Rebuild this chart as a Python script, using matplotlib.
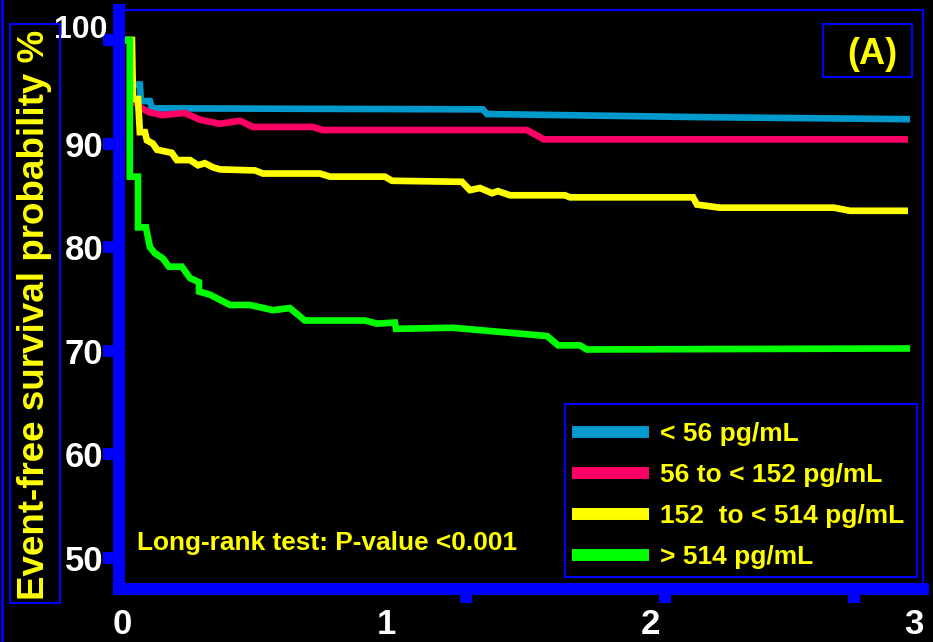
import matplotlib
matplotlib.use("Agg")
import matplotlib.pyplot as plt
from matplotlib.patches import Rectangle
from matplotlib.lines import Line2D
from matplotlib.transforms import ScaledTranslation

plt.rcParams['font.family'] = ['Liberation Sans', 'DejaVu Sans']

# ---------------- data ----------------
labels = ["< 56 pg/mL", "56 to < 152 pg/mL", "152  to < 514 pg/mL", "> 514 pg/mL"]
colors = ["#0099CC", "#FF0066", "#FFFF00", "#00FF00"]

blue_t = [0, 0.034, 0.034, 0.068, 0.072, 0.106, 0.114, 1.367, 1.383, 2.19, 2.985]
blue_v = [100, 100, 95.7, 95.7, 94.1, 94.1, 93.4, 93.3, 92.85, 92.55, 92.35]

red_t = [0, 0.030, 0.042, 0.068, 0.106, 0.152, 0.239, 0.295, 0.371, 0.447, 0.496,
         0.723, 0.761, 1.534, 1.598, 2.977]
red_v = [100, 100, 94.2, 93.5, 93.0, 92.75, 92.95, 92.3, 91.9, 92.2, 91.6,
         91.6, 91.3, 91.3, 90.4, 90.4]

yel_t = [0, 0.038, 0.042, 0.061, 0.068, 0.087, 0.095, 0.117, 0.133, 0.189, 0.208,
         0.258, 0.288, 0.314, 0.345, 0.371, 0.504, 0.534, 0.75, 0.788, 0.996, 1.023,
         1.288, 1.318, 1.356, 1.402, 1.424, 1.470, 1.678, 1.697, 2.163, 2.178, 2.265,
         2.697, 2.758, 2.977]
yel_v = [100, 100, 94.3, 94.3, 91.1, 91.1, 90.3, 90.0, 89.4, 89.1, 88.4,
         88.4, 87.9, 88.1, 87.7, 87.5, 87.4, 87.1, 87.1, 86.8, 86.8, 86.4,
         86.3, 85.5, 85.7, 85.2, 85.4, 85.0, 85.0, 84.8, 84.8, 84.1, 83.8,
         83.8, 83.5, 83.5]

grn_t = [0, 0.030, 0.030, 0.061, 0.061, 0.091, 0.106, 0.125, 0.155, 0.178, 0.227,
         0.258, 0.292, 0.292, 0.333, 0.409, 0.485, 0.572, 0.636, 0.693, 0.920, 0.966,
         1.034, 1.038, 1.254, 1.610, 1.652, 1.735, 1.761, 2.985]
grn_v = [100, 100, 86.8, 86.8, 81.9, 81.9, 80.0, 79.4, 78.9, 78.1, 78.1,
         77.0, 76.6, 75.7, 75.4, 74.4, 74.4, 73.9, 74.1, 72.9, 72.9, 72.6,
         72.7, 72.1, 72.2, 71.4, 70.5, 70.5, 70.1, 70.2]

x_ticks = [0, 1, 2, 3]
x_minor = [0, 1.303, 2.057, 2.773]
y_ticks = [50, 60, 70, 80, 90, 100]

ylabel = "Event-free survival probability %"
panel = "(A)"
test_text = "Long-rank test: P-value <0.001"

# ---------------- figure ----------------
W, H = 933, 642
fig = plt.figure(figsize=(W / 100, H / 100), dpi=100, facecolor="black")
L, R, T, B = 119, 923, 10, 589
ax = fig.add_axes([L / W, 1 - B / H, (R - L) / W, (B - T) / H])
ax.set_facecolor("black")

series = [(blue_t, blue_v), (red_t, red_v), (yel_t, yel_v), (grn_t, grn_v)]
for (t, v), c, lab in zip(series, colors, labels):
    ax.plot(t, v, color=c, lw=4.8, label=lab, solid_joinstyle="miter",
            solid_capstyle="butt")

ax.set_xlim(-0.011, 3.034)
ax.set_ylim(46.96, 102.9)

blue = "#0000FF"
for s in ["left", "bottom"]:
    ax.spines[s].set_color(blue)
    ax.spines[s].set_linewidth(8.6)
for s in ["top", "right"]:
    ax.spines[s].set_color(blue)
    ax.spines[s].set_linewidth(1.5)

ax.set_yticks(y_ticks)
ax.set_yticklabels([str(v) for v in y_ticks])
ax.tick_params(axis="y", direction="out", length=11.5, width=8.6, color=blue,
               labelcolor="white", labelsize=25, pad=0)
ax.set_xticks(x_ticks)
ax.set_xticklabels([str(v) for v in x_ticks])
ax.tick_params(axis="x", which="major", length=0, labelcolor="white",
               labelsize=25, pad=14)
ax.set_xticks(x_minor, minor=True)
ax.tick_params(axis="x", which="minor", direction="out", length=10, width=8.6,
               color=blue)
for lbl in ax.get_xticklabels() + ax.get_yticklabels():
    lbl.set_fontweight("bold")
# the top "100" label sits a little higher and narrower in the reference
top_lbl = ax.get_yticklabels()[-1]
top_lbl.set_fontsize(23)
top_lbl.set_transform(top_lbl.get_transform() +
                      ScaledTranslation(4 / 100, 14 / 100, fig.dpi_scale_trans))

# legend: frame drawn separately inside the axes
ax.add_patch(Rectangle((565 / W, 1 - 577 / H), 352 / W, 173 / H,
                       transform=fig.transFigure, fill=True, facecolor="black",
                       edgecolor=blue, lw=1.5, zorder=4))
leg = ax.legend(loc="upper left", bbox_to_anchor=((572 - L) / (R - L), (B - 422) / (B - T)),
                prop={"weight": "bold", "size": 19}, frameon=False,
                handlelength=2.9, handletextpad=0.42,
                labelspacing=0.65, borderpad=0, borderaxespad=0)
leg.set_zorder(10)
for h in leg.get_lines():
    h.set_linewidth(8.6)
for txt in leg.get_texts():
    txt.set_color("#FFFF00")

ax.text(0.0224, 0.0794, test_text, transform=ax.transAxes, color="#FFFF00",
        fontsize=18.9, fontweight="bold", va="center", ha="left")

# panel label box
fig.add_artist(Rectangle((823 / W, 1 - 77 / H), 89 / W, 53 / H,
                         transform=fig.transFigure, fill=True, facecolor="black",
                         edgecolor=blue, lw=1.5, zorder=5))
fig.text(872 / W, 1 - 55 / H, panel, color="#FFFF00", fontsize=26,
         fontweight="bold", ha="center", va="center", zorder=6)

# y label box
fig.add_artist(Rectangle((10 / W, 1 - 603 / H), 50 / W, 579 / H,
                         transform=fig.transFigure, fill=False,
                         edgecolor=blue, lw=1.5))
fig.text(35 / W, 1 - 315 / H, ylabel, color="#FFFF00", fontsize=26.5,
         fontweight="bold", rotation=90, ha="center", va="center")

# thin left border line
fig.add_artist(Line2D([1.5 / W, 1.5 / W], [0, 1], transform=fig.transFigure,
                      color=blue, lw=2))

fig.savefig("out.png", dpi=100, facecolor="black")
